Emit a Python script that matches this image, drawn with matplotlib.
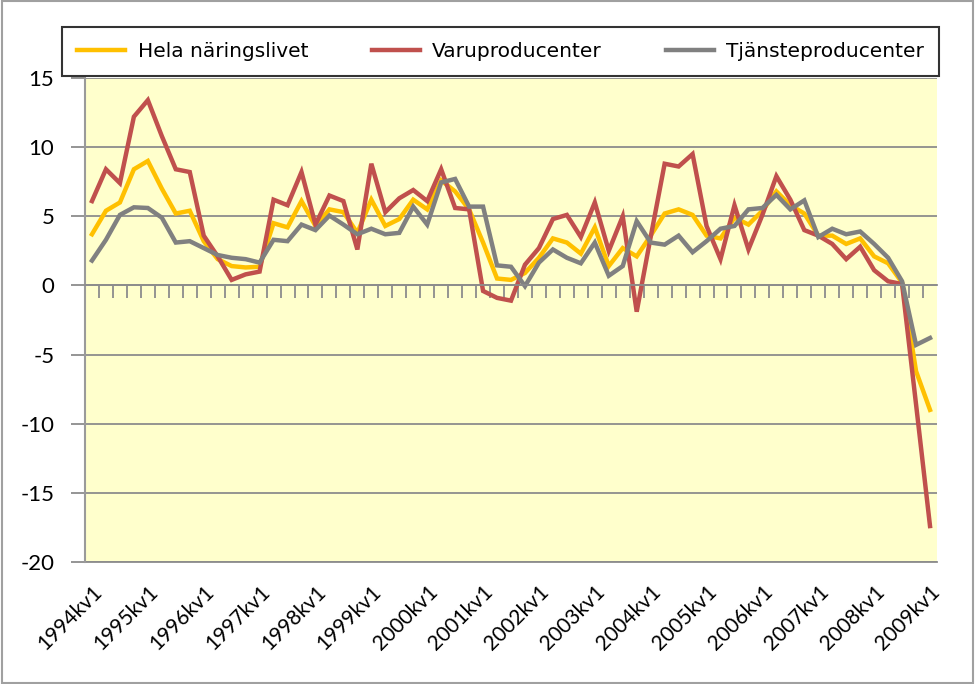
import numpy as np
import matplotlib
matplotlib.use("Agg")
import matplotlib.pyplot as plt
from matplotlib.patches import Rectangle

plt.rcParams["axes.unicode_minus"] = False

# quarterly data 1994kv1 - 2009kv1
years = list(range(1994, 2010))
quarters = [f"{y}kv{q}" for y in years for q in range(1, 5)][:61]

hela = [3.7, 5.4, 6.0, 8.4, 9.0, 7.0, 5.2, 5.4, 3.2, 1.9, 1.4, 1.3, 1.35,
        4.5, 4.2, 6.1, 4.3, 5.5, 5.3, 3.8, 6.2, 4.3, 4.8, 6.2, 5.5, 7.6,
        6.8, 5.5, 3.1, 0.5, 0.4, 0.9, 2.0, 3.4, 3.1, 2.3, 4.2, 1.4, 2.7,
        2.1, 3.6, 5.2, 5.5, 5.1, 3.6, 3.4, 4.9, 4.4, 5.4, 6.8, 5.8, 5.2,
        3.6, 3.6, 3.0, 3.4, 2.1, 1.6, 0.2, -6.2, -9.0]

varu = [6.1, 8.4, 7.4, 12.2, 13.4, 10.8, 8.4, 8.2, 3.6, 2.1, 0.4, 0.8, 1.0,
        6.2, 5.8, 8.2, 4.4, 6.5, 6.1, 2.6, 8.8, 5.3, 6.3, 6.9, 6.1, 8.4,
        5.6, 5.5, -0.4, -0.9, -1.1, 1.5, 2.7, 4.8, 5.1, 3.5, 6.0, 2.5, 5.0,
        -1.9, 3.5, 8.8, 8.6, 9.5, 4.3, 1.9, 5.8, 2.6, 5.1, 7.9, 6.2, 4.0,
        3.6, 3.0, 1.9, 2.8, 1.1, 0.3, 0.1, -8.6, -17.4]

tjanste = [1.8, 3.3, 5.1, 5.65, 5.6, 4.9, 3.1, 3.2, 2.7, 2.2, 2.0, 1.9, 1.65,
           3.3, 3.2, 4.4, 4.0, 5.05, 4.4, 3.7, 4.1, 3.7, 3.8, 5.7, 4.4, 7.45,
           7.7, 5.7, 5.7, 1.45, 1.35, -0.05, 1.65, 2.6, 2.0, 1.6, 3.1, 0.7, 1.4,
           4.65, 3.1, 2.95, 3.6, 2.4, 3.2, 4.1, 4.3, 5.5, 5.6, 6.55, 5.5, 6.15,
           3.5, 4.1, 3.7, 3.9, 3.0, 2.0, 0.3, -4.3, -3.8]

series_names = ["Hela näringslivet", "Varuproducenter", "Tjänsteproducenter"]
colors = ["#FFC000", "#C0504D", "#808080"]

x = np.arange(len(quarters))

fig = plt.figure(figsize=(9.75, 6.84), dpi=100)
ax = fig.add_axes([85/975, 1 - 562/684, (937-85)/975, (562-78)/684])
ax.set_facecolor("#FFFFCC")

for vals, name, c in zip([hela, varu, tjanste], series_names, colors):
    ax.plot(x, vals, color=c, lw=3.2, label=name, solid_joinstyle="miter")

ax.set_xlim(-0.5, len(quarters) - 0.5)
ax.set_ylim(-20, 15)
ax.set_yticks(range(-20, 16, 5))
ax.yaxis.grid(True, color="#8c8c8c", lw=1.3)
ax.set_axisbelow(True)
ax.tick_params(axis="y", length=10, width=1.3, color="#8c8c8c", pad=12, labelsize=16)
for t in ax.get_yticklabels():
    t.set_fontfamily("Lato")

for s in ["top", "right"]:
    ax.spines[s].set_visible(False)
ax.spines["left"].set_color("#9a9a9a")
ax.spines["left"].set_linewidth(1.5)

# category axis crosses at zero, tick marks between categories
ax.spines["bottom"].set_position(("data", 0))
ax.spines["bottom"].set_color("#8c8c8c")
ax.spines["bottom"].set_linewidth(1.3)
ax.set_xticks(x[:-1] + 0.5)
ax.set_xticklabels([])
ax.tick_params(axis="x", length=9, width=1.3, color="#8c8c8c", direction="out")

# labels at the bottom of the plot area
sec = ax.secondary_xaxis(0.0)
sec.set_xticks(x[::4])
sec.set_xticklabels(quarters[::4], rotation=45, ha="right",
                    rotation_mode="anchor", fontsize=15, family="Lato")
sec.tick_params(length=0, pad=14)
sec.spines["bottom"].set_color("#8c8c8c")
sec.spines["bottom"].set_linewidth(1.3)

fig.legend(loc="lower left", bbox_to_anchor=(62/975, 1 - 76/684, 877/975, 49/684),
           mode="expand", ncol=3, frameon=True, fancybox=False, borderaxespad=0,
           handlelength=2.4, handletextpad=0.6, borderpad=0.75, fontsize=14.5,
           edgecolor="black")
leg = fig.legends[0]
leg.get_frame().set_linewidth(1.5)

fig.patches.append(Rectangle((0.002, 0.002), 0.996, 0.996, transform=fig.transFigure,
                             fill=False, edgecolor="#a0a0a0", lw=1.5))

fig.savefig("out.png", dpi=100)
